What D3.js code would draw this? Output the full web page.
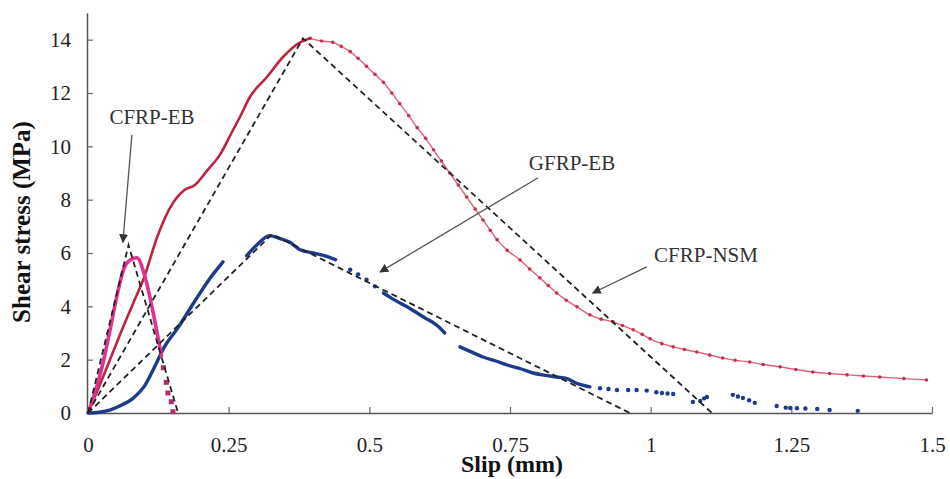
<!DOCTYPE html>
<html>
<head>
<meta charset="utf-8">
<script src="https://d3js.org/d3.v7.min.js"></script>
<style>
  body { margin: 0; background: #fff; }
  text { font-family: "Liberation Serif", "Times New Roman", Times, "DejaVu Serif", serif; }
</style>
</head>
<body>
<div id="chart"></div>
<script>
// tick values and labels
var xTicks = [0, 0.25, 0.5, 0.75, 1, 1.25, 1.5];
var xTickLabels = ["0", "0.25", "0.5", "0.75", "1", "1.25", "1.5"];
var yTicks = [0, 2, 4, 6, 8, 10, 12, 14];

// CFRP-NSM test curve (slip mm, stress MPa) - rising part and softening part
var nsmRise = [[0, 0], [0.02, 1.0], [0.04, 2.05], [0.06, 3.1], [0.08, 4.1], [0.10, 5.1],
  [0.123, 6.6], [0.146, 7.7], [0.172, 8.37], [0.19, 8.55], [0.212, 9.1], [0.235, 9.7],
  [0.255, 10.5], [0.27, 11.1], [0.288, 11.86], [0.318, 12.6], [0.347, 13.36],
  [0.377, 13.9], [0.395, 14.05]];
var nsmFall = [[0.395, 14.05], [0.415, 13.95], [0.435, 13.9], [0.45, 13.75], [0.466, 13.55],
  [0.48, 13.3], [0.495, 13.0], [0.51, 12.7], [0.525, 12.4], [0.54, 12.0], [0.554, 11.6],
  [0.57, 11.15], [0.585, 10.7], [0.6, 10.3], [0.614, 9.87], [0.628, 9.45], [0.643, 9.0],
  [0.658, 8.55], [0.673, 8.1], [0.688, 7.65], [0.702, 7.24], [0.715, 6.85], [0.727, 6.5],
  [0.745, 6.1], [0.768, 5.74], [0.785, 5.4], [0.803, 5.07], [0.818, 4.78], [0.833, 4.5],
  [0.85, 4.23], [0.869, 3.98], [0.892, 3.68], [0.912, 3.52], [0.933, 3.42], [0.95, 3.28],
  [0.969, 3.12], [0.985, 2.95], [0.999, 2.78], [1.02, 2.6], [1.04, 2.48], [1.06, 2.38],
  [1.082, 2.29], [1.105, 2.17], [1.128, 2.06], [1.15, 1.98], [1.176, 1.91], [1.2, 1.82],
  [1.23, 1.73], [1.258, 1.63], [1.288, 1.54], [1.318, 1.48], [1.349, 1.43], [1.378, 1.39],
  [1.407, 1.35], [1.45, 1.29], [1.49, 1.24]];

// CFRP-EB test curve
var ebCurve = [[0, 0], [0.01, 0.6], [0.027, 1.9], [0.039, 3.1], [0.051, 4.35], [0.063, 5.37],
  [0.075, 5.74], [0.087, 5.82], [0.10, 5.2], [0.110, 4.35], [0.122, 3.1], [0.131, 2.1]];
var ebTail = [[0.134, 1.7], [0.139, 1.15], [0.142, 0.75], [0.148, 0.42], [0.151, 0.05]];

// GFRP-EB test curve: dense segments and loose points
var gfrpSeg1 = [[0, 0], [0.02, 0.03], [0.04, 0.12], [0.06, 0.3], [0.08, 0.55], [0.10, 1.0],
  [0.12, 1.8], [0.135, 2.45], [0.16, 3.2], [0.19, 4.2], [0.215, 5.0], [0.24, 5.67]];
var gfrpSeg2 = [[0.282, 5.9], [0.30, 6.3], [0.323, 6.65], [0.34, 6.55], [0.359, 6.4],
  [0.377, 6.12], [0.40, 6.0], [0.42, 5.9], [0.44, 5.75]];
var gfrpSeg3 = [[0.525, 4.5], [0.54, 4.3], [0.554, 4.13], [0.57, 3.95], [0.585, 3.75],
  [0.60, 3.55], [0.614, 3.38], [0.625, 3.2], [0.634, 3.0]];
var gfrpSeg4 = [[0.661, 2.48], [0.68, 2.3], [0.702, 2.1], [0.725, 1.95], [0.745, 1.8],
  [0.77, 1.65], [0.791, 1.5], [0.81, 1.42], [0.833, 1.35], [0.85, 1.3], [0.87, 1.1], [0.892, 0.98]];
var gfrpDots = [[0.466, 5.37], [0.48, 5.2], [0.495, 5.0], [0.51, 4.75],
  [0.91, 0.93], [0.925, 0.9], [0.94, 0.86], [0.96, 0.86], [0.975, 0.86], [0.993, 0.84],
  [1.01, 0.78], [1.02, 0.75], [1.03, 0.73], [1.04, 0.71],
  [1.075, 0.41], [1.088, 0.45], [1.095, 0.55], [1.1, 0.6],
  [1.146, 0.68], [1.155, 0.62], [1.164, 0.56], [1.175, 0.48], [1.185, 0.38],
  [1.224, 0.26], [1.24, 0.2], [1.248, 0.19], [1.26, 0.18], [1.275, 0.17], [1.296, 0.15],
  [1.318, 0.11], [1.368, 0.08]];

// bilinear bond-slip models (dashed)
var nsmModel = [[0, 0], [0.382, 14.05], [1.109, 0]];
var gfrpModel = [[0, 0], [0.327, 6.7], [0.963, 0]];
var ebModel = [[0, 0], [0.072, 6.3], [0.16, 0]];

var svgWidth = 950, svgHeight = 479;

var svg = d3.select("#chart")
  .append("svg")
    .attr("width", svgWidth)
    .attr("height", svgHeight);

// arrow head
svg.append("defs").append("marker")
  .attr("id", "arrow")
  .attr("viewBox", "0 0 10 10")
  .attr("refX", 9).attr("refY", 5)
  .attr("markerWidth", 9).attr("markerHeight", 9)
  .attr("markerUnits", "userSpaceOnUse")
  .attr("orient", "auto")
  .append("path")
    .attr("d", "M0,0 L10,5 L0,10 z")
    .attr("fill", "#333");

var x = d3.scaleLinear().domain([0, 1.5]).range([88, 932]);
var y = d3.scaleLinear().domain([0, 15]).range([413, 13]);

// X axis
var xAxis = svg.append("g")
  .attr("transform", "translate(0," + y(0) + ")")
  .call(d3.axisBottom(x)
    .tickValues(xTicks)
    .tickFormat((d, i) => xTickLabels[i])
    .tickSize(-6)
    .tickSizeOuter(0)
    .tickPadding(24));

// Y axis
var yAxis = svg.append("g")
  .attr("transform", "translate(" + (x(0) - 1) + ",0)")
  .call(d3.axisLeft(y)
    .tickValues(yTicks)
    .tickSize(-6)
    .tickSizeOuter(0)
    .tickPadding(16));

[xAxis, yAxis].forEach(function(a) {
  a.attr("font-family", null);
  a.select(".domain").attr("stroke", "#555").attr("stroke-width", 1.5);
  a.selectAll(".tick line").attr("stroke", "#666").attr("stroke-width", 1.2);
  a.selectAll(".tick text")
    .attr("fill", "#222")
    .style("font-size", "21px");
});

// axis titles
svg.append("text")
  .attr("x", 512).attr("y", 472)
  .attr("text-anchor", "middle")
  .style("font-size", "24px").style("font-weight", "bold")
  .attr("fill", "#111")
  .text("Slip (mm)");

svg.append("text")
  .attr("transform", "translate(30,222) rotate(-90)")
  .attr("text-anchor", "middle")
  .style("font-size", "25px").style("font-weight", "bold")
  .attr("fill", "#111")
  .text("Shear stress (MPa)");

var smooth = d3.line().x(d => x(d[0])).y(d => y(d[1])).curve(d3.curveMonotoneX);
var straight = d3.line().x(d => x(d[0])).y(d => y(d[1]));

// CFRP-NSM
svg.append("path").attr("d", smooth(nsmFall))
  .attr("fill", "none").attr("stroke", "#e0607a").attr("stroke-width", 1.4);
svg.append("g").selectAll("circle").data(nsmFall).join("circle")
  .attr("cx", d => x(d[0])).attr("cy", d => y(d[1])).attr("r", 1.8)
  .attr("fill", "#c4304e");
svg.append("path").attr("d", smooth(nsmRise))
  .attr("fill", "none").attr("stroke", "#bf2340").attr("stroke-width", 2.6);

// GFRP-EB
[gfrpSeg1, gfrpSeg2, gfrpSeg3, gfrpSeg4].forEach(function(seg) {
  svg.append("path").attr("d", smooth(seg))
    .attr("fill", "none").attr("stroke", "#1d3b8b").attr("stroke-width", 3.4)
    .attr("stroke-linecap", "round");
});
svg.append("g").selectAll("circle").data(gfrpDots).join("circle")
  .attr("cx", d => x(d[0])).attr("cy", d => y(d[1])).attr("r", 2.2)
  .attr("fill", "#1d3b8b");

// CFRP-EB
svg.append("path").attr("d", smooth(ebCurve))
  .attr("fill", "none").attr("stroke", "#e0338f").attr("stroke-width", 3.6);
svg.append("g").selectAll("rect").data(ebTail).join("rect")
  .attr("x", d => x(d[0]) - 2.5).attr("y", d => y(d[1]) - 2.5)
  .attr("width", 5).attr("height", 5)
  .attr("fill", "#b82a6c");

// bilinear models
[nsmModel, gfrpModel, ebModel].forEach(function(m) {
  svg.append("path").attr("d", straight(m))
    .attr("fill", "none").attr("stroke", "#222").attr("stroke-width", 1.8)
    .attr("stroke-dasharray", "6,4");
});

// labels with arrows
var notes = [
  {text: "CFRP-EB", tx: 152, ty: 124, from: [0.078, 10.43], to: [0.062, 6.4]},
  {text: "GFRP-EB", tx: 572, ty: 170, from: [0.8, 8.82], to: [0.519, 5.29]},
  {text: "CFRP-NSM", tx: 706, ty: 262, from: [0.993, 5.48], to: [0.897, 4.5]}
];
notes.forEach(function(n) {
  svg.append("text")
    .attr("x", n.tx).attr("y", n.ty)
    .attr("text-anchor", "middle")
    .style("font-size", "21px")
    .attr("fill", "#333")
    .text(n.text);
  svg.append("line")
    .attr("x1", x(n.from[0])).attr("y1", y(n.from[1]))
    .attr("x2", x(n.to[0])).attr("y2", y(n.to[1]))
    .attr("stroke", "#555").attr("stroke-width", 1.3)
    .attr("marker-end", "url(#arrow)");
});
</script>
</body>
</html>
